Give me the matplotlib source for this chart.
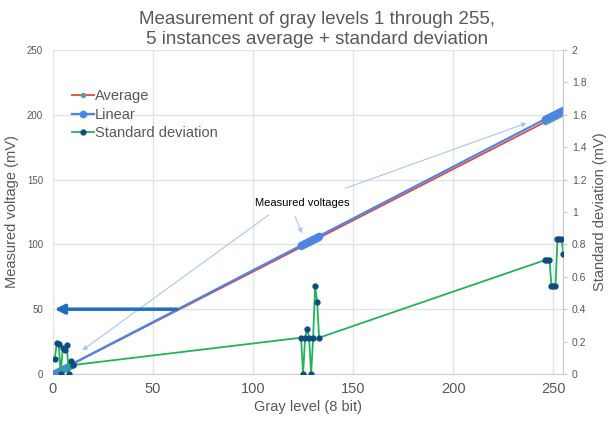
import matplotlib
matplotlib.use("Agg")
import matplotlib.pyplot as plt

plt.rcParams["font.family"] = ["Liberation Sans", "DejaVu Sans"]

# gray levels measured (three clusters)
gray = [1, 2, 3, 4, 5, 6, 7, 8, 9, 10,
        124, 125, 126, 127, 128, 129, 130, 131, 132, 133,
        246, 247, 248, 249, 250, 251, 252, 253, 254, 255]

# average of 5 instances (mV)
average = [0.6, 1.4, 2.2, 3.0, 3.8, 4.6, 5.4, 6.2, 7.0, 7.8,
           97.9, 98.7, 99.5, 100.3, 101.1, 101.9, 102.7, 103.5, 104.3, 105.1,
           194.6, 195.4, 196.2, 197.0, 197.8, 198.6, 199.4, 200.2, 201.0, 201.8]

# linear reference (mV)
linear = [0.8, 1.6, 2.4, 3.2, 4.0, 4.8, 5.6, 6.4, 7.2, 8.0,
          99.2, 100.0, 100.8, 101.6, 102.4, 103.2, 104.0, 104.8, 105.6, 106.4,
          196.8, 197.6, 198.4, 199.2, 200.0, 200.8, 201.6, 202.4, 203.2, 204.0]

# standard deviation (mV)
std_dev = [0.09, 0.19, 0.185, 0.0, 0.16, 0.15, 0.18, 0.0, 0.08, 0.055,
           0.224, 0.0, 0.224, 0.276, 0.224, 0.0, 0.224, 0.545, 0.446, 0.224,
           0.704, 0.704, 0.704, 0.543, 0.543, 0.543, 0.833, 0.833, 0.833, 0.739]

text_gray = "#595959"
grid_gray = "#E3E3E3"

fig = plt.figure(figsize=(6.08, 4.26), dpi=100)
ax = fig.add_axes([0.0867, 0.1221, 0.8401, 0.7605])
ax2 = ax.twinx()

l_avg, = ax.plot(gray, average, color="#E8483B", linewidth=1.3,
                 marker="o", markersize=3, markerfacecolor="#5E9E9C",
                 markeredgecolor="#5E9E9C", zorder=3, label="Average")
l_lin, = ax.plot(gray, linear, color="#4A86E8", linewidth=1.6,
                 marker="o", markersize=4.5, markerfacecolor="#4A86E8",
                 markeredgecolor="#4A86E8", zorder=4, label="Linear")
l_std, = ax2.plot(gray, std_dev, color="#22B35A", linewidth=1.3,
                  marker="o", markersize=3.5, markerfacecolor="#0D4C80",
                  markeredgecolor="#0D4C80", zorder=3, label="Standard deviation")

ax.set_xlim(0, 255)
ax.set_ylim(0, 250)
ax2.set_ylim(0, 2)
ax.set_xticks([0, 50, 100, 150, 200, 250])
ax.set_yticks([0, 50, 100, 150, 200, 250])
ax2.set_yticks([0, 0.2, 0.4, 0.6, 0.8, 1.0, 1.2, 1.4, 1.6, 1.8, 2.0])
ax2.set_yticklabels(["0", "0.2", "0.4", "0.6", "0.8", "1", "1.2", "1.4",
                     "1.6", "1.8", "2"])

ax.grid(True, color=grid_gray, linewidth=1.0)
ax.set_axisbelow(True)
for s in ["top", "left", "right"]:
    ax.spines[s].set_visible(False)
    ax2.spines[s].set_visible(False)
ax2.spines["bottom"].set_visible(False)
ax.spines["bottom"].set_color("#D0D0D0")
ax2.spines["right"].set_visible(True)
ax2.spines["right"].set_color("#C8C8C8")

ax.tick_params(axis="x", length=0, pad=6, labelsize=10.5, labelcolor=text_gray)
ax.tick_params(axis="y", length=0, pad=7, labelsize=7, labelcolor=text_gray)
ax2.tick_params(axis="y", length=3, width=0.8, color="#C8C8C8", pad=3,
                labelsize=7.5, labelcolor=text_gray)

ax.set_xlabel("Gray level (8 bit)", fontsize=10.5, color=text_gray, labelpad=3)
ax.set_ylabel("Measured voltage (mV)", fontsize=10.5, color=text_gray, labelpad=6)
ax2.set_ylabel("Standard deviation (mV)", fontsize=10.5, color=text_gray, labelpad=5)

fig.text(0.522, 0.975, "Measurement of gray levels 1 through 255,\n"
         "5 instances average + standard deviation",
         ha="center", va="top", fontsize=13.5, color=text_gray, linespacing=1.22)

# thin callout arrows
arrow_kw = dict(arrowstyle="-|>", color="#A9C6F5", lw=0.8, mutation_scale=7)
ax.annotate("", xy=(13.6, 17), xytext=(109, 124), arrowprops=arrow_kw, zorder=5)
ax.annotate("", xy=(125, 106.5), xytext=(120.5, 123.5), arrowprops=arrow_kw, zorder=5)
ax.annotate("", xy=(238, 194.4), xytext=(145, 142.7), arrowprops=arrow_kw, zorder=5)
ax.text(124.5, 132, "Measured voltages", ha="center", va="center",
        fontsize=8, color="black", zorder=6)

# axis pointer arrows
ax.annotate("", xy=(1, 50), xytext=(62, 50),
            arrowprops=dict(arrowstyle="-|>", color="#1F6FBF", lw=2.5,
                            mutation_scale=14, shrinkA=0, shrinkB=0), zorder=6)
ax2.annotate("", xy=(255.5, 0.39), xytext=(182, 0.39),
             arrowprops=dict(arrowstyle="-|>", color="#12AD4A", lw=2.5,
                             mutation_scale=14, shrinkA=0, shrinkB=0), zorder=6)

leg = ax2.legend(handles=[l_avg, l_lin, l_std], loc="upper left",
                 bbox_to_anchor=(0.118, 0.79), bbox_transform=fig.transFigure,
                 frameon=False, fontsize=10.5, handlelength=1.5,
                 handletextpad=0.1, labelspacing=0.3, borderpad=0,
                 borderaxespad=0)
for t in leg.get_texts():
    t.set_color(text_gray)

fig.savefig("out.png", dpi=100)
